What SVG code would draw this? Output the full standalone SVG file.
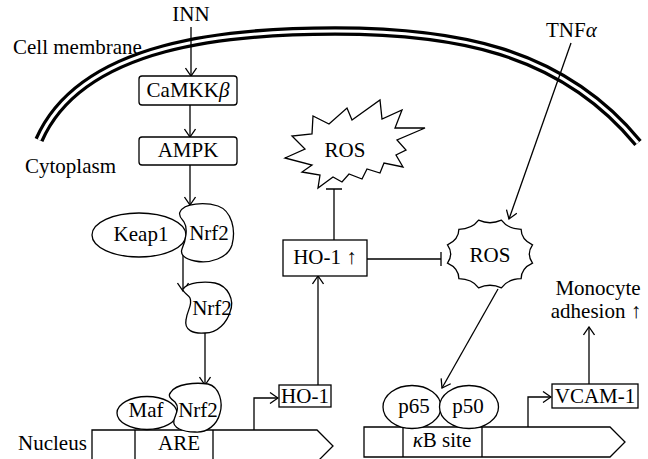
<svg xmlns="http://www.w3.org/2000/svg" width="648" height="459" viewBox="0 0 648 459">
<style>
.t{font-family:"Liberation Serif","Times New Roman",serif;font-size:21px;fill:#000}
.m{text-anchor:middle}
.s{fill:#fff;stroke:#000;stroke-width:1.3}
.l{fill:none;stroke:#000;stroke-width:1.3}
.i{font-style:italic}
</style>
<defs>
<marker id="arr" viewBox="0 0 10 12" refX="9" refY="6" markerWidth="10" markerHeight="12" markerUnits="userSpaceOnUse" orient="auto">
<path d="M1,0.5 L9,6 L1,11.5" fill="none" stroke="#000" stroke-width="1.3"/>
</marker>
</defs>
<rect width="648" height="459" fill="#fff"/>
<g id="membrane">
<path d="M39,140 C82,42 232,31 335,31 C450,31 560,48 638,143" fill="none" stroke="#000" stroke-width="9.5"/>
<path d="M39,140 C82,42 232,31 335,31 C450,31 560,48 638,143" fill="none" stroke="#fff" stroke-width="3"/>
</g>
<g id="labels">
<text class="t m" x="191" y="21">INN</text>
<text class="t" x="13" y="54">Cell membrane</text>
<text class="t" x="25" y="173">Cytoplasm</text>
<text class="t" x="546" y="37">TNF<tspan class="i">α</tspan></text>
<text class="t" x="18" y="450">Nucleus</text>
</g>
<g id="connectors">
<path class="l" d="M191,27 L191,76" marker-end="url(#arr)"/>
<path class="l" d="M190,105 L190,137" marker-end="url(#arr)"/>
<path class="l" d="M190,165 L190,205" marker-end="url(#arr)"/>
<path class="l" d="M183,250 L183,291" marker-end="url(#arr)"/>
<path class="l" d="M205,333 L205,385" marker-end="url(#arr)"/>
<path class="l" d="M254,430 L254,398 L278,398" marker-end="url(#arr)"/>
<path class="l" d="M318,385 L318,276" marker-end="url(#arr)"/>
<path class="l" d="M334,240 L334,189 M326,189 L342,189"/>
<path class="l" d="M367,259 L441,259 M441,252 L441,266"/>
<path class="l" d="M571,43 L509,219" marker-end="url(#arr)"/>
<path class="l" d="M498,289 L442,388" marker-end="url(#arr)"/>
<path class="l" d="M528,427 L528,397 L551,397" marker-end="url(#arr)"/>
<path class="l" d="M589,384 L589,327" marker-end="url(#arr)"/>
</g>
<g id="camkkb">
<rect class="s" x="139" y="76" width="98" height="29" rx="3"/>
<text class="t m" x="188" y="97">CaMKK<tspan class="i">β</tspan></text>
</g>
<g id="ampk">
<rect class="s" x="139" y="137" width="98" height="28" rx="3"/>
<text class="t m" x="188" y="157">AMPK</text>
</g>
<g id="keap1">
<ellipse class="s" cx="139" cy="235" rx="47" ry="22"/>
<text class="t m" x="141" y="241">Keap1</text>
</g>
<g id="nrf2-a">
<path class="s" d="M180,212 C184,203 205,202 218,206 C232,211 236,230 232,245 C228,258 210,264 195,261 C184,259 180,254 182,249 C186,240 188,228 184,222 C182,219 178,216 180,212 Z"/>
<text class="t m" x="209" y="240">Nrf2</text>
</g>
<g id="nrf2-b">
<path class="s" d="M183,289 C188,282 205,281 215,283 C228,286 235,300 230,312 C227,322 218,333 205,333 C193,334 184,330 186,320 C187,310 193,305 190,298 C188,294 182,292 183,289 Z"/>
<text class="t m" x="212" y="315">Nrf2</text>
</g>
<g id="ho1-up">
<rect class="s" x="283" y="240" width="84" height="36"/>
<text class="t m" x="325" y="264">HO-1 ↑</text>
</g>
<g id="ros-star">
<path class="s" d="M285,158 L305,149 L292,136 L312,134 L313,116 L329,124 L347,108 L352,120 L380,100 L382,119 L402,110 L395,128 L425,128 L397,140 L406,150 L396,155 L403,167 L384,163 L380,173 L367,169 L362,179 L349,174 L342,182 L333,177 L318,188 L320,175 L302,172 L312,165 Z"/>
<text class="t m" x="345" y="157">ROS</text>
</g>
<g id="ros-cloud">
<path class="s" d="M501.4,220.2 Q508,229.1 521.1,229.3 Q521.2,239.7 532.5,244.9 Q526.1,254 532.5,263.1 Q521.2,268.3 521.1,278.7 Q508,278.9 501.4,287.8 Q490,282.7 478.6,287.8 Q472,278.9 458.9,278.7 Q458.8,268.3 447.5,263.1 Q453.9,254 447.5,244.9 Q458.8,239.7 458.9,229.3 Q472,229.1 478.6,220.2 Q490,225.3 501.4,220.2 Z"/>
<text class="t m" x="490" y="262">ROS</text>
</g>
<g id="are-gene">
<path class="s" d="M92,463 L92,430 L317,430 L333,446 L317,462"/>
<path class="l" d="M135,430 L135,462 M213,430 L213,462"/>
<text class="t m" x="179" y="450">ARE</text>
</g>
<g id="maf">
<ellipse class="s" cx="147" cy="413" rx="30" ry="16.5"/>
<text class="t m" x="146" y="417">Maf</text>
</g>
<g id="nrf2-c">
<path class="s" d="M171,392 C176,384 195,382 208,384 C220,387 223,403 220,413 C217,425 207,433 195,432 C183,432 172,428 174,420 C176,413 180,408 175,402 C171,399 167,396 171,392 Z"/>
<text class="t m" x="198" y="417">Nrf2</text>
</g>
<g id="ho1">
<rect class="s" x="279" y="385" width="52" height="22"/>
<text class="t m" x="305" y="403">HO-1</text>
</g>
<g id="kb-gene">
<path class="s" d="M364,427 L610,427 L625,442 L610,457 L364,457 Z"/>
<path class="l" d="M403,427 L403,457 M482,427 L482,457"/>
<text class="t m" x="442" y="447"><tspan class="i">κ</tspan>B site</text>
</g>
<g id="p65">
<ellipse class="s" cx="412" cy="407" rx="29" ry="21.5"/>
<text class="t m" x="414" y="413">p65</text>
</g>
<g id="p50">
<ellipse class="s" cx="469" cy="407" rx="29.5" ry="21.5"/>
<text class="t m" x="468" y="413">p50</text>
</g>
<g id="vcam1">
<rect class="s" x="552" y="384" width="86" height="24"/>
<text class="t m" x="595" y="403">VCAM-1</text>
</g>
<g id="monocyte">
<text class="t m" x="598" y="295">Monocyte</text>
<text class="t m" x="596" y="318">adhesion ↑</text>
</g>
</svg>
